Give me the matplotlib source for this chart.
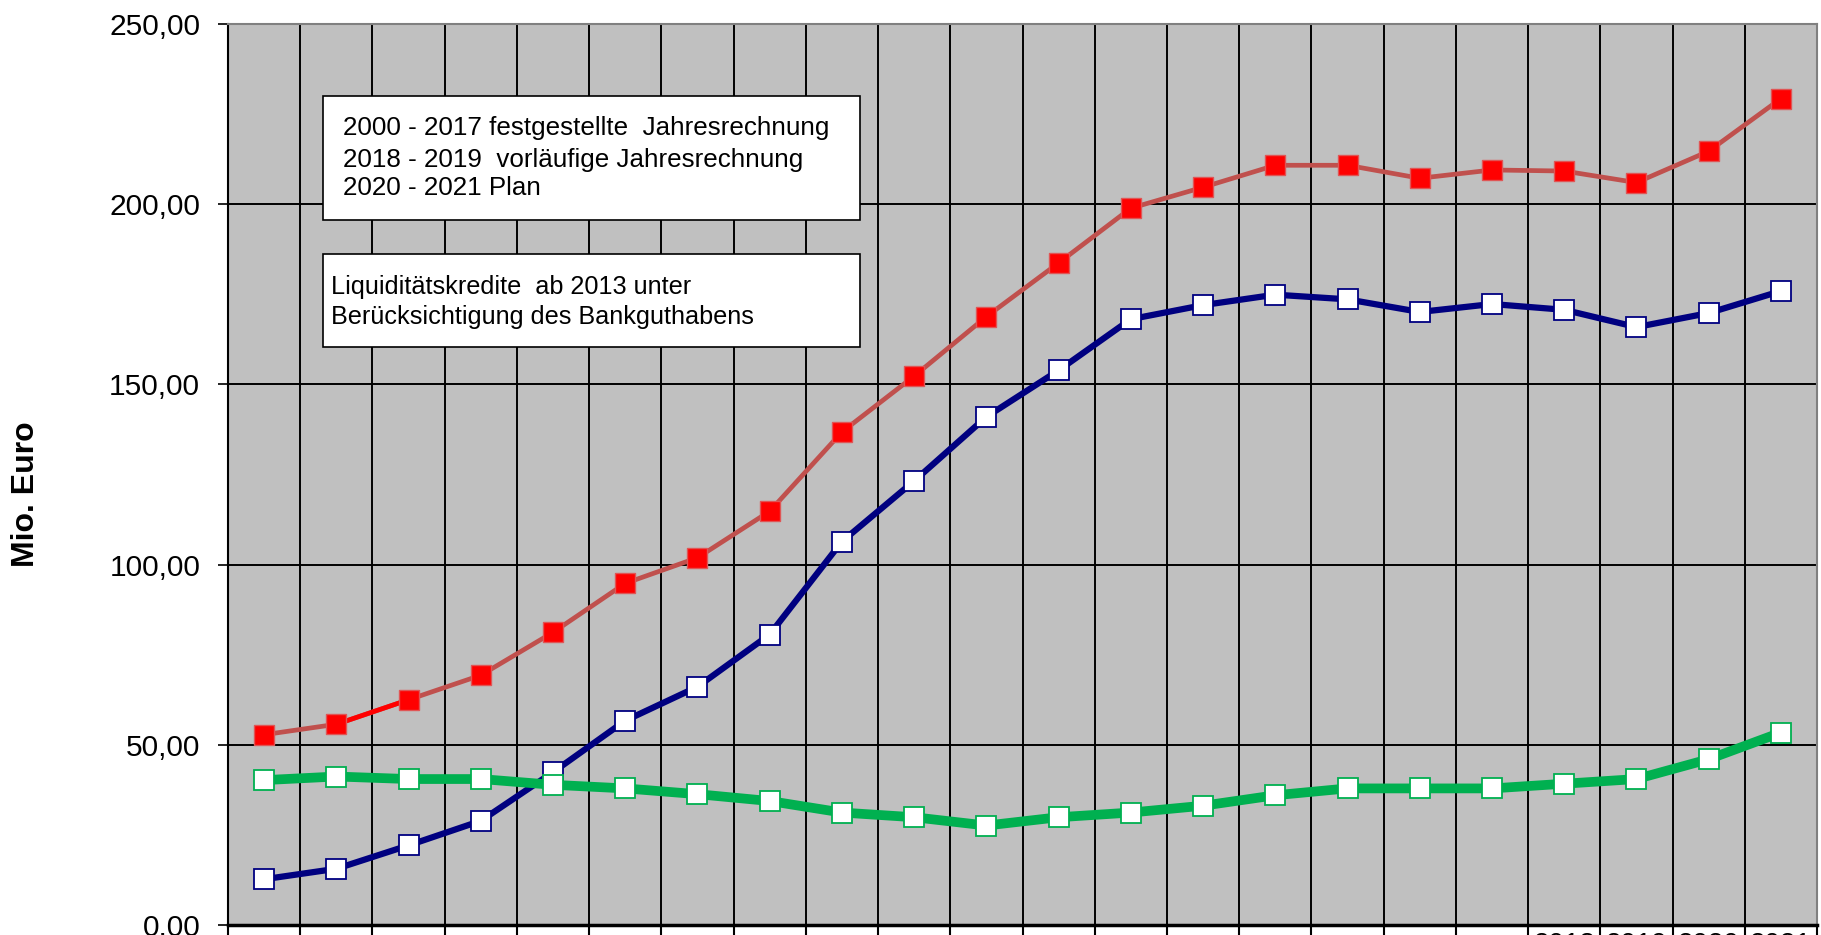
import numpy as np
import matplotlib
matplotlib.use('Agg')
from matplotlib import pyplot as plt
from matplotlib.patches import Rectangle
from matplotlib.ticker import FuncFormatter

plt.rcParams['font.family'] = ['Liberation Sans', 'DejaVu Sans']

years = list(range(2000, 2022))
year_labels = ['' if y < 2018 else str(y) for y in years]

# Mio. Euro
red_vals = [52.8, 55.7, 62.5, 69.3, 81.2, 94.8, 101.9, 114.8, 136.8, 152.3, 168.8,
            183.7, 198.9, 204.7, 210.8, 210.8, 207.2, 209.5, 209.2, 206.0, 214.7, 229.3]
blue_vals = [12.7, 15.6, 22.1, 28.9, 42.4, 56.7, 66.1, 80.6, 106.4, 123.2, 141.0,
             153.9, 168.1, 172.0, 174.9, 173.6, 170.1, 172.3, 170.7, 165.9, 169.8, 175.9]
green_vals = [40.2, 41.2, 40.5, 40.5, 38.9, 37.9, 36.3, 34.4, 31.2, 29.9, 27.6,
              29.9, 31.2, 33.1, 36.0, 37.9, 37.9, 37.9, 39.2, 40.5, 46.0, 53.4]

box1_lines = ['2000 - 2017 festgestellte  Jahresrechnung',
              '2018 - 2019  vorläufige Jahresrechnung',
              '2020 - 2021 Plan']
box2_lines = ['Liquiditätskredite  ab 2013 unter',
              'Berücksichtigung des Bankguthabens']

x = np.arange(len(years))

fig = plt.figure(figsize=(18.21, 9.35), dpi=100)
ax = fig.add_axes([228 / 1821, 10 / 935, 1589 / 1821, 901 / 935])
ax.set_facecolor('#c0c0c0')

# blue first, green drawn over it
ax.plot(x, blue_vals, color='#000080', lw=4.5, marker='s', ms=14,
        mfc='white', mec='#000080', mew=1.3, zorder=3)
ax.plot(x, green_vals, color='#00b050', lw=7, marker='s', ms=14,
        mfc='white', mec='#00b050', mew=1.3, zorder=4)
ax.plot(x, red_vals, color='#c0504d', lw=3.4, zorder=5)
ax.plot(x[1:3], red_vals[1:3], color='#ff0000', lw=3.4, zorder=5)
ax.plot(x, red_vals, ls='none', marker='s', ms=14, mfc='#ff0000',
        mec='#e05555', mew=1, zorder=6)

ax.set_xlim(-0.5, len(years) - 0.5)
ax.set_ylim(0, 250)
ax.set_yticks(np.arange(0, 251, 50))
ax.yaxis.set_major_formatter(FuncFormatter(lambda v, p: f'{v:.2f}'.replace('.', ',')))

ax.set_xticks(x)
ax.set_xticklabels(year_labels)
ax.set_xticks(np.arange(-0.5, len(years)), minor=True)
ax.tick_params(axis='x', which='major', length=0, pad=5, labelsize=20)
ax.tick_params(axis='x', which='minor', length=12, width=1.5, color='black')
ax.tick_params(axis='y', length=7, width=1.2, pad=13, labelsize=21.5)

ax.grid(axis='y', which='major', color='black', lw=1.4)
ax.grid(axis='x', which='minor', color='black', lw=1.4)
ax.set_axisbelow(True)

ax.spines['left'].set_color('black')
ax.spines['left'].set_linewidth(1.5)
ax.spines['bottom'].set_color('black')
ax.spines['bottom'].set_linewidth(2.5)
ax.spines['top'].set_color('#808080')
ax.spines['right'].set_color('#808080')
ax.spines['top'].set_linewidth(1.5)
ax.spines['right'].set_linewidth(1.5)

# text boxes
ax.add_patch(Rectangle((0.0598, 0.7825), 0.338, 0.1376, transform=ax.transAxes,
                       facecolor='white', edgecolor='black', lw=1.2, zorder=8))
for t, yy in zip(box1_lines, [0.8846, 0.849, 0.818]):
    ax.text(0.0724, yy, t, transform=ax.transAxes, fontsize=18.7, va='center', zorder=9)

ax.add_patch(Rectangle((0.0598, 0.6415), 0.338, 0.1032, transform=ax.transAxes,
                       facecolor='white', edgecolor='black', lw=1.2, zorder=8))
for t, yy in zip(box2_lines, [0.708, 0.675]):
    ax.text(0.0648, yy, t, transform=ax.transAxes, fontsize=18.2, va='center', zorder=9)

fig.text(26 / 1821, 1 - 494 / 935, 'Mio. Euro', rotation=90, fontsize=23,
         fontweight='bold', ha='center', va='center')

fig.savefig('out.png', dpi=100)
